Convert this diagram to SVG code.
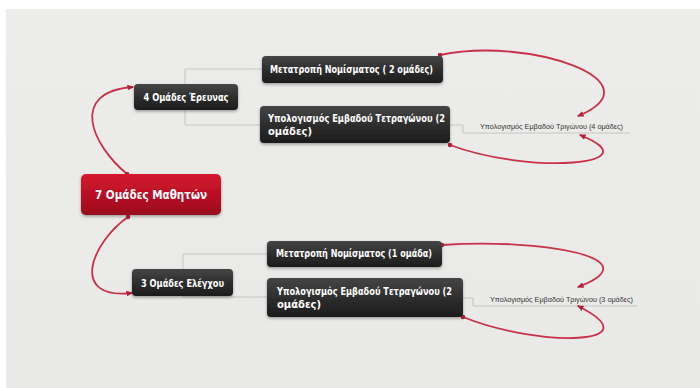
<svg xmlns="http://www.w3.org/2000/svg" width="700" height="388" viewBox="0 0 700 388">
<defs>
<linearGradient id="gDark" x1="0" y1="0" x2="0" y2="1">
<stop offset="0" stop-color="#454545"/>
<stop offset="0.5" stop-color="#2e2e2e"/>
<stop offset="1" stop-color="#1c1c1c"/>
</linearGradient>
<linearGradient id="gRed" x1="0" y1="0" x2="0" y2="1">
<stop offset="0" stop-color="#d4192f"/>
<stop offset="0.5" stop-color="#bb0f25"/>
<stop offset="1" stop-color="#98091b"/>
</linearGradient>
<linearGradient id="gBg" x1="0" y1="0" x2="0" y2="1">
<stop offset="0" stop-color="#ececea"/>
<stop offset="1" stop-color="#e9e9e7"/>
</linearGradient>
<filter id="sh" x="-10%" y="-20%" width="120%" height="150%">
<feDropShadow dx="0" dy="1.5" stdDeviation="1.5" flood-color="#000" flood-opacity="0.35"/>
</filter>
<marker id="arr" viewBox="0 0 10 10" refX="8" refY="5" markerWidth="7" markerHeight="7" orient="auto" markerUnits="userSpaceOnUse">
<path d="M0,1 L10,5 L0,9 z" fill="#b3213a"/>
</marker>
<marker id="dot" viewBox="0 0 10 10" refX="5" refY="5" markerWidth="5" markerHeight="5" markerUnits="userSpaceOnUse">
<circle cx="5" cy="5" r="4.5" fill="#b3213a"/>
</marker>
</defs>
<style>
.node{fill:url(#gDark);filter:url(#sh)}
.root{fill:url(#gRed);filter:url(#sh)}
.t{font-family:"DejaVu Sans","Liberation Sans",sans-serif;font-weight:bold;fill:#ffffff;font-size:10px}
.rt{font-family:"DejaVu Sans","Liberation Sans",sans-serif;font-weight:bold;fill:#ffffff;font-size:12.5px}
.lbl{font-family:"Liberation Sans","DejaVu Sans",sans-serif;fill:#333;font-size:7.2px}
.tree{fill:none;stroke:#c4c4c2;stroke-width:1}
.rel{fill:none;stroke:#c9304a;stroke-width:1.8;marker-start:url(#dot);marker-end:url(#arr)}
</style>
<rect x="0" y="0" width="700" height="388" fill="#ffffff"/>
<rect x="6" y="9" width="694" height="379" fill="url(#gBg)"/>

<g id="connectors">
<path class="tree" d="M185,97 V69 H262 M185,97 V125 H260"/>
<path class="tree" d="M183,282 V254 H267 M183,282 V297 H267"/>
<path class="tree" d="M450,125 H463 V133 H630"/>
<path class="tree" d="M463,298 H473 V306 H637"/>
<path class="rel" d="M127,174 C92,145 68,92 133,87"/>
<path class="rel" d="M128,217 C92,242 68,300 132,293"/>
<path class="rel" d="M440,55 C530,36 660,82 578,116"/>
<path class="rel" d="M450,145 C530,175 655,165 580,135"/>
<path class="rel" d="M442,245 C540,238 655,258 578,287"/>
<path class="rel" d="M463,317 C540,348 655,345 578,306"/>
</g>

<g id="n-root">
<rect class="root" x="81" y="174" width="140" height="41" rx="5"/>
<text class="rt" x="151" y="199" text-anchor="middle" textLength="112" lengthAdjust="spacingAndGlyphs">7 Ομάδες Μαθητών</text>
</g>
<g id="n-research">
<rect class="node" x="134" y="84" width="104" height="26" rx="4"/>
<text class="t" x="186" y="101" text-anchor="middle" textLength="85" lengthAdjust="spacingAndGlyphs">4 Ομάδες Έρευνας</text>
</g>
<g id="n-control">
<rect class="node" x="132" y="269" width="101" height="27" rx="4"/>
<text class="t" x="182.5" y="287" text-anchor="middle" textLength="83" lengthAdjust="spacingAndGlyphs">3 Ομάδες Ελέγχου</text>
</g>
<g id="n-r1">
<rect class="node" x="262" y="56" width="181" height="27" rx="4"/>
<text class="t" x="270" y="73" textLength="163" lengthAdjust="spacingAndGlyphs">Μετατροπή Νομίσματος ( 2 ομάδες)</text>
</g>
<g id="n-r2">
<rect class="node" x="260" y="106" width="190" height="37" rx="4"/>
<text class="t" x="268" y="122" textLength="177" lengthAdjust="spacingAndGlyphs">Υπολογισμός Εμβαδού Τετραγώνου (2</text>
<text class="t" x="268" y="135">ομάδες)</text>
</g>
<g id="n-r3">
<text class="lbl" x="480" y="129" textLength="143" lengthAdjust="spacingAndGlyphs">Υπολογισμός Εμβαδού Τριγώνου (4 ομάδες)</text>
</g>
<g id="n-c1">
<rect class="node" x="267" y="241" width="175" height="26" rx="4"/>
<text class="t" x="276" y="257" textLength="156" lengthAdjust="spacingAndGlyphs">Μετατροπή Νομίσματος (1 ομάδα)</text>
</g>
<g id="n-c2">
<rect class="node" x="267" y="278" width="196" height="39" rx="4"/>
<text class="t" x="277" y="295" textLength="175" lengthAdjust="spacingAndGlyphs">Υπολογισμός Εμβαδού Τετραγώνου (2</text>
<text class="t" x="277" y="308">ομάδες)</text>
</g>
<g id="n-c3">
<text class="lbl" x="490" y="302" textLength="143" lengthAdjust="spacingAndGlyphs">Υπολογισμός Εμβαδού Τριγώνου (3 ομάδες)</text>
</g>
</svg>
